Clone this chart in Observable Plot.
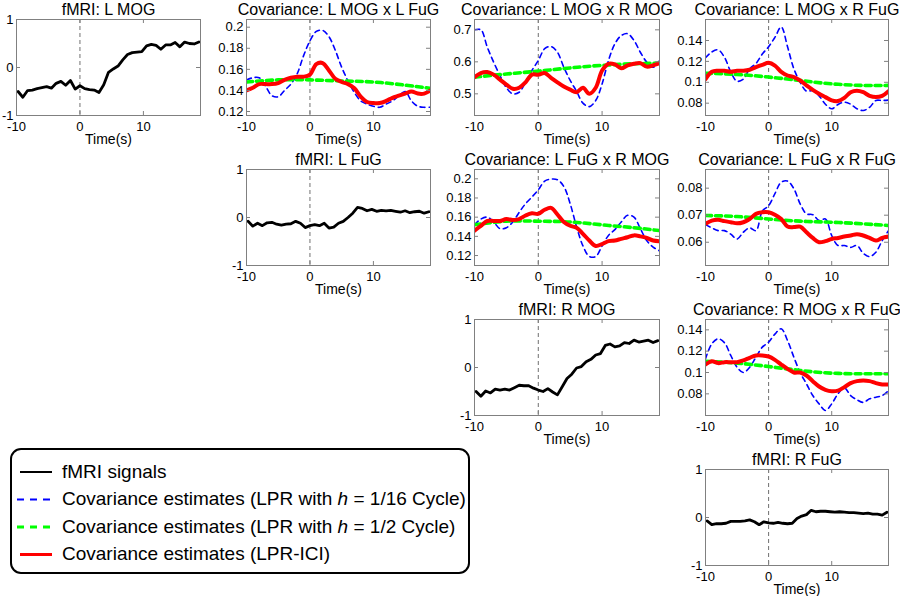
<!DOCTYPE html>
<html><head><meta charset="utf-8">
<script src="https://cdn.jsdelivr.net/npm/d3@7"></script>
<script src="https://cdn.jsdelivr.net/npm/@observablehq/plot@0.6"></script>
<style>
body{margin:0;background:#fff;font-family:"Liberation Sans",Arial,sans-serif;}
#root{position:relative;width:900px;height:596px;overflow:hidden;background:#fff;}
</style></head><body><div id="root"></div>
<script>
// ---------- data ----------
const fmriTime = [-9.75,-9,-8.25,-7.5,-6.75,-6,-5.25,-4.5,-3.75,-3,-2.25,-1.5,-0.75,0,0.75,1.5,2.25,3,3.75,4.5,5.25,6,6.75,7.5,8.25,9,9.75,10.5,11.25,12,12.75,13.5,14.25,15,15.75,16.5,17.25,18,18.75];
const fmriLMOG = [-0.50,-0.62,-0.48,-0.47,-0.44,-0.42,-0.40,-0.43,-0.33,-0.29,-0.37,-0.27,-0.45,-0.38,-0.44,-0.46,-0.47,-0.52,-0.36,-0.10,-0.03,0.03,0.16,0.27,0.31,0.32,0.33,0.45,0.48,0.46,0.38,0.47,0.47,0.52,0.43,0.53,0.50,0.49,0.53];
const fmriLFuG = [-0.08,-0.18,-0.12,-0.17,-0.11,-0.10,-0.14,-0.16,-0.14,-0.13,-0.08,-0.12,-0.21,-0.17,-0.15,-0.17,-0.12,-0.22,-0.20,-0.12,-0.08,0.00,0.09,0.21,0.19,0.14,0.17,0.13,0.15,0.14,0.15,0.13,0.11,0.14,0.10,0.12,0.13,0.09,0.12];
const fmriRMOG = [-0.50,-0.60,-0.49,-0.53,-0.45,-0.47,-0.45,-0.47,-0.42,-0.37,-0.38,-0.38,-0.43,-0.47,-0.50,-0.44,-0.51,-0.57,-0.40,-0.23,-0.14,-0.01,0.02,0.12,0.17,0.26,0.29,0.46,0.49,0.43,0.45,0.52,0.50,0.57,0.53,0.55,0.57,0.52,0.56];
const fmriRFuG = [-0.07,-0.15,-0.13,-0.13,-0.12,-0.08,-0.08,-0.08,-0.07,-0.05,-0.09,-0.15,-0.09,-0.11,-0.12,-0.10,-0.12,-0.13,-0.12,-0.02,0.03,0.06,0.15,0.12,0.13,0.13,0.12,0.11,0.12,0.11,0.10,0.10,0.09,0.08,0.09,0.07,0.07,0.05,0.11];

const covTime = [-10,-9,-8,-7,-6,-5,-4,-3,-2,-1,0,1,2,3,4,5,6,7,8,9,10,11,12,13,14,15,16,17,18,19];
const greenTime = [-10,-5,0,5,10,15,19];

// L MOG x L FuG
const blue_LMOG_LFuG = [0.150,0.152,0.152,0.144,0.135,0.134,0.140,0.146,0.156,0.173,0.187,0.196,0.197,0.191,0.178,0.162,0.149,0.138,0.130,0.127,0.125,0.124,0.127,0.130,0.135,0.139,0.130,0.125,0.124,0.124];
const green_LMOG_LFuG = [0.148,0.150,0.150,0.149,0.148,0.145,0.142];
const red_LMOG_LFuG = [0.140,0.1425,0.146,0.146,0.146,0.147,0.150,0.152,0.153,0.153,0.155,0.165,0.166,0.159,0.151,0.148,0.146,0.142,0.134,0.129,0.128,0.128,0.130,0.133,0.135,0.137,0.139,0.137,0.137,0.140];
// L MOG x R MOG
const blue_LMOG_RMOG = [0.700,0.700,0.646,0.599,0.557,0.519,0.500,0.505,0.536,0.573,0.604,0.641,0.648,0.630,0.583,0.542,0.508,0.471,0.460,0.479,0.531,0.604,0.656,0.682,0.688,0.667,0.630,0.599,0.583,0.604];
const green_LMOG_RMOG = [0.552,0.562,0.571,0.581,0.589,0.594,0.596];
const red_LMOG_RMOG = [0.552,0.565,0.568,0.560,0.544,0.529,0.516,0.519,0.536,0.560,0.560,0.565,0.550,0.536,0.523,0.513,0.505,0.519,0.500,0.519,0.573,0.594,0.592,0.580,0.589,0.594,0.596,0.585,0.589,0.596];
// L MOG x R FuG
const blue_LMOG_RFuG = [0.1234,0.129,0.131,0.124,0.110,0.101,0.103,0.113,0.118,0.127,0.134,0.143,0.153,0.134,0.113,0.100,0.0915,0.092,0.087,0.079,0.0746,0.0788,0.081,0.079,0.0746,0.073,0.076,0.0826,0.0826,0.083];
const green_LMOG_RFuG = [0.1087,0.1075,0.105,0.1017,0.0985,0.097,0.097];
const red_LMOG_RFuG = [0.103,0.110,0.111,0.111,0.110,0.111,0.111,0.112,0.1145,0.1167,0.1186,0.116,0.110,0.1065,0.105,0.1017,0.097,0.0928,0.089,0.0858,0.0826,0.082,0.085,0.0905,0.092,0.0905,0.087,0.0858,0.087,0.0915];
// L FuG x R MOG
const blue_LFuG_RMOG = [0.152,0.158,0.160,0.155,0.148,0.149,0.155,0.165,0.174,0.181,0.1885,0.1976,0.1997,0.199,0.192,0.174,0.150,0.130,0.119,0.119,0.130,0.141,0.147,0.155,0.162,0.160,0.148,0.1356,0.1287,0.125];
const green_LFuG_RMOG = [0.152,0.1558,0.1558,0.155,0.152,0.149,0.146];
const red_LFuG_RMOG = [0.146,0.151,0.156,0.156,0.156,0.158,0.157,0.158,0.1617,0.164,0.1635,0.1677,0.1697,0.1628,0.155,0.151,0.149,0.1426,0.1356,0.130,0.132,0.135,0.1356,0.1374,0.139,0.141,0.140,0.1384,0.1356,0.135];
// L FuG x R FuG
const blue_LFuG_RFuG = [0.0665,0.0653,0.0643,0.0643,0.063,0.0612,0.0637,0.0653,0.0643,0.0715,0.0735,0.078,0.0822,0.0826,0.0798,0.0742,0.0705,0.0702,0.068,0.0686,0.0625,0.0588,0.0588,0.0581,0.0588,0.0559,0.0547,0.0563,0.0606,0.0643];
const green_LFuG_RFuG = [0.0699,0.0695,0.0686,0.0678,0.0674,0.0668,0.0662];
const red_LFuG_RFuG = [0.0668,0.068,0.0683,0.0678,0.0674,0.067,0.0674,0.0686,0.0705,0.0711,0.0711,0.0702,0.0686,0.0658,0.0656,0.0658,0.0637,0.0616,0.060,0.0604,0.0612,0.0616,0.0621,0.0625,0.063,0.0625,0.0616,0.0606,0.0616,0.0621];
// R MOG x R FuG
const blue_RMOG_RFuG = [0.1128,0.1269,0.1316,0.128,0.116,0.105,0.100,0.105,0.1144,0.1238,0.1284,0.136,0.141,0.130,0.1144,0.100,0.0894,0.0784,0.0706,0.0644,0.0706,0.080,0.0856,0.0784,0.0744,0.072,0.0753,0.0769,0.0784,0.083];
const green_RMOG_RFuG = [0.1106,0.1088,0.1056,0.1019,0.0994,0.0988,0.0988];
const red_RMOG_RFuG = [0.1075,0.1106,0.1088,0.1097,0.1097,0.1097,0.1113,0.1138,0.116,0.116,0.115,0.1119,0.1075,0.1034,0.100,0.100,0.0972,0.0919,0.0869,0.0838,0.0825,0.0831,0.0863,0.090,0.0919,0.0925,0.0919,0.090,0.0888,0.0888];

const xTickLabels = [-10, 0, 10];
const fmriTicks = [-1, 0, 1];
const legendLabels = ["fMRI signals", "Covariance estimates (LPR with |h| = 1/16 Cycle)", "Covariance estimates (LPR with |h| = 1/2 Cycle)", "Covariance estimates (LPR-ICI)"];

// ---------- drawing ----------
const root = document.getElementById("root");
const FONT = "'Liberation Sans', Arial, Helvetica, sans-serif";
const H = 96, ML = 48, MR = 48, MT = 26, MB = 36;
const GRAY = "#808080";

function fmriMarks(vals) {
  return [Plot.lineY(vals, {x: fmriTime, stroke: "#000", strokeWidth: 2.8, clip: true})];
}
function covMarks(blue, green, red) {
  return [
    Plot.lineY(blue, {x: covTime, stroke: "#0000ff", strokeWidth: 1.6, strokeDasharray: "5,4", curve: "catmull-rom", clip: true}),
    Plot.lineY(green, {x: greenTime, stroke: "#00ff00", strokeWidth: 3.6, strokeDasharray: "6,4", curve: "natural", clip: true}),
    Plot.lineY(red, {x: covTime, stroke: "#ff0000", strokeWidth: 4, curve: "catmull-rom", clip: true})
  ];
}

function panel(cfg) {
  const W = cfg.width;
  const inX = xTickLabels.filter(d => d > -10);
  const marks = [
    Plot.ruleX([0], {stroke: "#707070", strokeWidth: 1, strokeDasharray: "4,3"}),
    ...cfg.marks,
    Plot.frame({stroke: GRAY, strokeWidth: 1}),
    Plot.ruleX(inX, {stroke: GRAY, insetTop: H - 4}),
    Plot.ruleX(inX, {stroke: GRAY, insetBottom: H - 4}),
    Plot.ruleY(cfg.yTicks, {stroke: GRAY, insetLeft: W - 4}),
    Plot.ruleY(cfg.yTicks, {stroke: GRAY, insetRight: W - 4}),
    Plot.axisX(xTickLabels, {tickSize: 0, tickPadding: 6, fontSize: 13, tickFormat: d => String(d), label: null}),
    Plot.axisY(cfg.yTicks, {tickSize: 0, tickPadding: 3, fontSize: 13, tickFormat: d => String(d), label: null}),
    Plot.text([cfg.title], {text: d => d, frameAnchor: "top", dy: -5, lineAnchor: "bottom", fontSize: 16, fill: "#000"}),
    Plot.text(["Time(s)"], {text: d => d, frameAnchor: "bottom", dy: 28.5, lineAnchor: "bottom", fontSize: 14, fill: "#000"})
  ];
  const svg = Plot.plot({
    width: W + ML + MR, height: H + MT + MB,
    marginLeft: ML, marginRight: MR, marginTop: MT, marginBottom: MB,
    x: {domain: [-10, 19]},
    y: {domain: cfg.yDomain},
    style: {fontFamily: FONT, background: "transparent", color: "#000", overflow: "visible"},
    marks
  });
  svg.style.position = "absolute";
  svg.style.left = (cfg.left - ML) + "px";
  svg.style.top = (cfg.top - MT) + "px";
  svg.style.maxWidth = "none";
  root.appendChild(svg);
}

const covTicksA = [0.12, 0.14, 0.16, 0.18, 0.2];
panel({title: "fMRI: L MOG", left: 16, top: 19, width: 184, yDomain: [-1, 1], yTicks: fmriTicks, marks: fmriMarks(fmriLMOG)});
panel({title: "Covariance: L MOG x L FuG", left: 246, top: 19, width: 184, yDomain: [0.1162, 0.2073], yTicks: covTicksA, marks: covMarks(blue_LMOG_LFuG, green_LMOG_LFuG, red_LMOG_LFuG)});
panel({title: "Covariance: L MOG x R MOG", left: 474, top: 19, width: 185, yDomain: [0.4323, 0.7323], yTicks: [0.5, 0.6, 0.7], marks: covMarks(blue_LMOG_RMOG, green_LMOG_RMOG, red_LMOG_RMOG)});
panel({title: "Covariance: L MOG x R FuG", left: 705, top: 19, width: 183, yDomain: [0.0682, 0.1601], yTicks: [0.08, 0.1, 0.12, 0.14], marks: covMarks(blue_LMOG_RFuG, green_LMOG_RFuG, red_LMOG_RFuG)});
panel({title: "fMRI: L FuG", left: 246, top: 169, width: 184, yDomain: [-1, 1], yTicks: fmriTicks, marks: fmriMarks(fmriLFuG)});
panel({title: "Covariance: L FuG x R MOG", left: 474, top: 169, width: 185, yDomain: [0.1096, 0.2097], yTicks: covTicksA, marks: covMarks(blue_LFuG_RMOG, green_LFuG_RMOG, red_LFuG_RMOG)});
panel({title: "Covariance: L FuG x R FuG", left: 705, top: 169, width: 183, yDomain: [0.0514, 0.0869], yTicks: [0.06, 0.07, 0.08], marks: covMarks(blue_LFuG_RFuG, green_LFuG_RFuG, red_LFuG_RFuG)});
panel({title: "fMRI: R MOG", left: 474, top: 319, width: 185, yDomain: [-1, 1], yTicks: fmriTicks, marks: fmriMarks(fmriRMOG)});
panel({title: "Covariance: R MOG x R FuG", left: 705, top: 319, width: 183, yDomain: [0.0597, 0.1497], yTicks: [0.08, 0.1, 0.12, 0.14], marks: covMarks(blue_RMOG_RFuG, green_RMOG_RFuG, red_RMOG_RFuG)});
panel({title: "fMRI: R FuG", left: 705, top: 469, width: 183, yDomain: [-1, 1], yTicks: fmriTicks, marks: fmriMarks(fmriRFuG)});

// ---------- legend ----------
const ns = "http://www.w3.org/2000/svg";
const lg = document.createElementNS(ns, "svg");
lg.setAttribute("width", 480); lg.setAttribute("height", 140);
lg.style.position = "absolute"; lg.style.left = "0px"; lg.style.top = "440px";
lg.style.fontFamily = FONT;
root.appendChild(lg);
const L = d3.select(lg);
L.append("rect").attr("x", 11).attr("y", 9).attr("width", 458).attr("height", 124).attr("rx", 10).attr("ry", 10)
  .attr("fill", "#fff").attr("stroke", "#000").attr("stroke-width", 2);
const legendStyles = [
  {stroke: "#000", w: 2, dash: null, x1: 20, x2: 52},
  {stroke: "#0000ff", w: 2, dash: "7,6", x1: 17, x2: 51},
  {stroke: "#00ff00", w: 3, dash: "7,6", x1: 17, x2: 56},
  {stroke: "#ff0000", w: 3, dash: null, x1: 20, x2: 52}
];
legendLabels.forEach((lab, i) => {
  const base = 37.5 + i * 27.5;
  const st = legendStyles[i];
  const ln = L.append("line").attr("x1", st.x1).attr("x2", st.x2).attr("y1", base - 5.5).attr("y2", base - 5.5)
    .attr("stroke", st.stroke).attr("stroke-width", st.w);
  if (st.dash) ln.attr("stroke-dasharray", st.dash);
  const t = L.append("text").attr("x", 62).attr("y", base).attr("font-size", 19).attr("fill", "#000");
  lab.split("|").forEach((part, j) => {
    const sp = t.append("tspan").text(part);
    if (j === 1) sp.attr("font-style", "italic");
  });
});
</script>
</body></html>
